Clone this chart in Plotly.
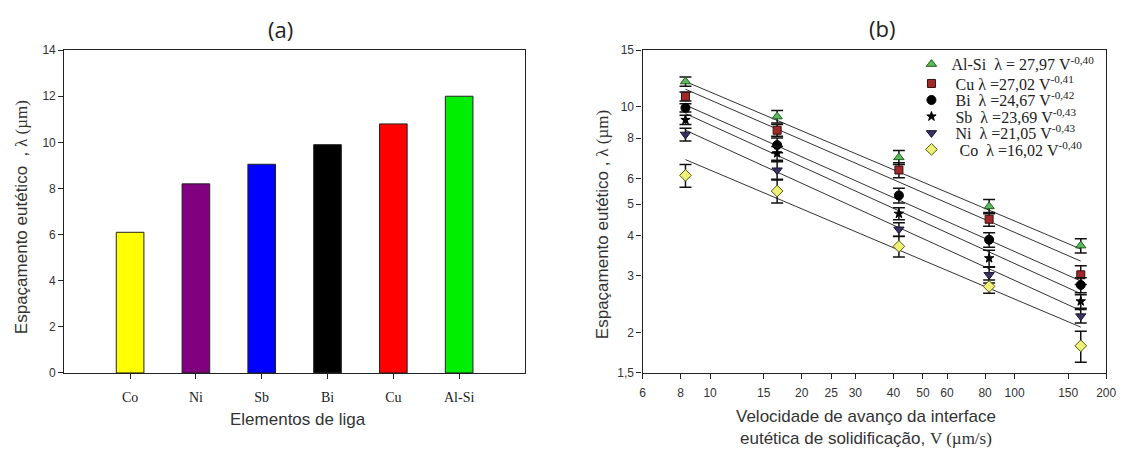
import plotly.graph_objects as go

W, H = 1134, 457

# ---------------- data ----------------
# panel (a)
elements = ["Co", "Ni", "Sb", "Bi", "Cu", "Al-Si"]
spacing_a = [6.1, 8.2, 9.05, 9.9, 10.8, 12.0]
bar_colors = ["#ffff00", "#800080", "#0000ff", "#000000", "#ff0000", "#00ee00"]

# panel (b)
velocity = [8.3, 16.6, 41.7, 82.5, 165]
series_names = ["Al-Si", "Cu", "Bi", "Sb", "Ni", "Co"]
lam_alsi = [11.99, 9.34, 6.98, 4.92, 3.72]
lam_cu = [10.78, 8.47, 6.38, 4.49, 3.02]
lam_bi = [9.94, 7.62, 5.32, 3.88, 2.81]
lam_sb = [9.12, 7.19, 4.67, 3.40, 2.50]
lam_ni = [8.22, 6.37, 4.18, 3.02, 2.25]
lam_co = [6.14, 5.49, 3.70, 2.78, 1.82]
err_alsi = [0.40, 0.42, 0.35, 0.25, 0.19]
err_cu = [0.35, 0.35, 0.34, 0.22, 0.20]
err_bi = [0.30, 0.40, 0.28, 0.20, 0.15]
err_sb = [0.30, 0.35, 0.20, 0.20, 0.12]
err_ni = [0.38, 0.40, 0.20, 0.17, 0.11]
err_co = [0.50, 0.45, 0.27, 0.13, 0.20]
# fitted power-law lines (straight on log-log): endpoints
fit_v = [8.3, 165]
fit_alsi = [11.99, 3.63]
fit_cu = [11.35, 3.33]
fit_bi = [10.14, 2.89]
fit_sb = [9.54, 2.64]
fit_ni = [8.47, 2.34]
fit_co = [6.87, 2.08]
legend_labels = [
    "Al-Si  λ = 27,97 V<sup>-0,40</sup>",
    " Cu λ =27,02 V<sup>-0,41</sup>",
    " Bi  λ =24,67 V<sup>-0,42</sup>",
    " Sb  λ =23,69 V<sup>-0,43</sup>",
    " Ni  λ =21,05 V<sup>-0,43</sup>",
    "  Co  λ =16,02 V<sup>-0,40</sup>",
]
x_ticks_b = [6, 8, 10, 15, 20, 25, 30, 40, 50, 60, 80, 100, 150, 200]
y_ticks_b = [1.5, 2, 3, 4, 5, 6, 8, 10, 15]
y_ticktext_b = ["1,5", "2", "3", "4", "5", "6", "8", "10", "15"]

lam_all = [lam_alsi, lam_cu, lam_bi, lam_sb, lam_ni, lam_co]
err_all = [err_alsi, err_cu, err_bi, err_sb, err_ni, err_co]
fit_all = [fit_alsi, fit_cu, fit_bi, fit_sb, fit_ni, fit_co]

# styles
sym = ["triangle-up", "square", "circle", "star", "triangle-down", "diamond"]
fill = ["#5cb85c", "#9e2a2b", "#000000", "#000000", "#3b3060", "#eef07a"]
edge = ["#1f5f1f", "#3a1010", "#000000", "#000000", "#1a1530", "#5a5a10"]
msize = [9, 8, 9, 7, 9, 9]
legend_rows_px = [59, 79, 96, 113, 130, 147]

SERIF = "Liberation Serif, Times New Roman, serif"
SANS = "Liberation Sans, Arial, sans-serif"


def px(x):
    return x / W


def py(y):
    return 1 - y / H


fig = go.Figure()

# ---------- panel (a) ----------
fig.add_trace(go.Bar(
    x=elements, y=spacing_a, marker=dict(color=bar_colors, line=dict(color="#222", width=1)),
    width=0.42, showlegend=False, xaxis="x", yaxis="y"))

# ---------- panel (b) ----------
for i in range(6):
    fig.add_trace(go.Scatter(
        x=fit_v, y=fit_all[i], mode="lines", line=dict(color="#333", width=1),
        showlegend=False, xaxis="x2", yaxis="y2", hoverinfo="skip"))

legend_layout = {}
for i in range(6):
    lname = "legend" if i == 0 else f"legend{i + 1}"
    fig.add_trace(go.Scatter(
        x=velocity, y=lam_all[i], mode="markers", name=legend_labels[i],
        marker=dict(symbol=sym[i], size=msize[i], color=fill[i], line=dict(color=edge[i], width=1)),
        error_y=dict(type="data", array=err_all[i], visible=True, color="#111", thickness=1.5, width=6),
        xaxis="x2", yaxis="y2", legend=lname, showlegend=True))
    legend_layout[lname] = dict(
        x=px(919), y=py(legend_rows_px[i]), xanchor="left", yanchor="middle",
        bgcolor="rgba(0,0,0,0)", borderwidth=0,
        font=dict(family=SERIF, size=16, color="#222"), itemsizing="trace")

ydom = [py(377.5), py(44.5)]

axis_common = dict(showline=True, linecolor="#222", linewidth=1.3, mirror=True,
                   ticks="outside", ticklen=5, tickcolor="#222", showgrid=False, zeroline=False)

fig.update_layout(
    width=W, height=H, margin=dict(l=0, r=0, t=0, b=0),
    paper_bgcolor="white", plot_bgcolor="white",
    xaxis=dict(domain=[px(62), px(528)], range=[-1, 6], anchor="y", ticklabelstandoff=6,
               tickfont=dict(family=SERIF, size=14, color="#222"), **axis_common),
    yaxis=dict(domain=ydom, range=[0, 14], dtick=2, anchor="x",
               tickfont=dict(family=SANS, size=12, color="#333"), **axis_common),
    xaxis2=dict(domain=[px(647), px(1116)], type="log", range=[0.77815, 2.30103], anchor="y2",
                tickvals=x_ticks_b, ticktext=[str(v) for v in x_ticks_b], ticklabelstandoff=4,
                tickfont=dict(family=SANS, size=12, color="#333"), **axis_common),
    yaxis2=dict(domain=ydom, type="log", range=[0.17609, 1.17609], anchor="x2",
                tickvals=y_ticks_b, ticktext=y_ticktext_b,
                tickfont=dict(family=SANS, size=12, color="#333"), **axis_common),
    showlegend=True,
    **legend_layout,
)

ann = [
    dict(text="(a)", x=px(281), y=py(23), font=dict(family="Open Sans, sans-serif", size=22, color="#222")),
    dict(text="(b)", x=px(889), y=py(22), font=dict(family="Open Sans, sans-serif", size=22, color="#222")),
    dict(text="Elementos de liga", x=px(298), y=py(426), font=dict(family=SANS, size=17, color="#333")),
    dict(text="Espaçamento eutético  , <span style='font-family:Liberation Serif'>λ (µm)</span>",
         x=px(19), y=py(217), textangle=-90, font=dict(family=SANS, size=17, color="#333")),
    dict(text="Espaçamento eutético , <span style='font-family:Liberation Serif'>λ (µm)</span>",
         x=px(606), y=py(225), textangle=-90, font=dict(family=SANS, size=17, color="#333")),
    dict(text="Velocidade de avanço da interface", x=px(873), y=py(422),
         font=dict(family=SANS, size=17, color="#333")),
    dict(text="eutética de solidificação, <span style='font-family:Liberation Serif'>V (µm/s)</span>",
         x=px(873), y=py(445), font=dict(family=SANS, size=17, color="#333")),
]
for a in ann:
    a.update(xref="paper", yref="paper", showarrow=False, xanchor="center", yanchor="middle")
fig.update_layout(annotations=ann)

fig.write_html("out.html")
